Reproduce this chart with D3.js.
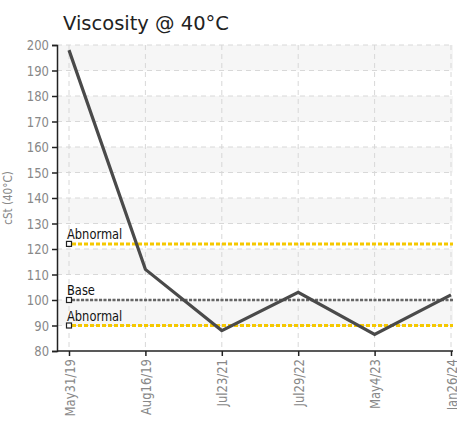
<!DOCTYPE html>
<html><head><meta charset="utf-8">
<script src="https://cdn.jsdelivr.net/npm/d3@7"></script>
<style>
body{margin:0;background:#fff;}
text{font-family:"DejaVu Sans",sans-serif;}
</style></head>
<body>
<svg id="c" width="457" height="423"></svg>
<script>
const categories = ["May31/19","Aug16/19","Jul23/21","Jul29/22","May4/23","Jan26/24"];
const viscosity = [198, 112, 88, 103, 86.5, 102];
const yTicks = [80,90,100,110,120,130,140,150,160,170,180,190,200];
const limitNames = ["Abnormal","Base","Abnormal"];
const limitValues = [122, 100, 90];
const limitKinds = ["abn","base","abn"];

const svg = d3.select("#c");
const L = 57, R = 453, T = 45, B = 351;
const SX = 0.8;
const x = d3.scalePoint().domain(categories).range([69, 451]);
const y = d3.scaleLinear().domain([80, 200]).range([B, T]);

// title
svg.append("text").attr("x", 63).attr("y", 30).attr("font-size", 19.5)
  .attr("fill", "#222").text("Viscosity @ 40°C");

// bands
for (let i = 0; i < yTicks.length - 1; i++) {
  const v0 = yTicks[i], v1 = yTicks[i+1];
  if (i % 2 === 1) {
    svg.append("rect").attr("x", L).attr("y", y(v1)).attr("width", R - L)
      .attr("height", y(v0) - y(v1)).attr("fill", "#f6f6f6");
  }
}
// grid
svg.append("g").selectAll("line").data(yTicks.slice(1)).join("line")
  .attr("x1", L).attr("x2", R).attr("y1", d => y(d)).attr("y2", d => y(d))
  .attr("stroke", "#d8d8d8").attr("stroke-dasharray", "5,4");
svg.append("g").selectAll("line").data(categories).join("line")
  .attr("x1", d => x(d)).attr("x2", d => x(d)).attr("y1", T).attr("y2", B)
  .attr("stroke", "#d8d8d8").attr("stroke-dasharray", "5,4");

// axes
const ya = svg.append("g").attr("transform", `translate(${L},0)`)
  .call(d3.axisLeft(y).tickValues(yTicks).tickSize(5).tickPadding(3));
ya.select(".domain").attr("stroke", "#222").attr("stroke-width", 1.5);
ya.selectAll(".tick line").attr("stroke", "#222").attr("stroke-width", 1.5);
ya.selectAll(".tick text").attr("font-size", 14.5).attr("fill", "#888")
  .attr("x", -8 / SX).attr("transform", `scale(${SX},1)`);

const xa = svg.append("g").attr("transform", `translate(0,${B})`)
  .call(d3.axisBottom(x).tickSize(5).tickSizeOuter(0));
xa.select(".domain").attr("d", `M${L},0H${R}`).attr("stroke", "#222").attr("stroke-width", 1.5);
xa.selectAll(".tick line").attr("stroke", "#222").attr("stroke-width", 1.5);
xa.selectAll(".tick text").attr("font-size", 14.5).attr("fill", "#888")
  .attr("text-anchor", "end").attr("dy", "0.35em")
  .attr("transform", `translate(0,8) rotate(-90) scale(${SX},1)`).attr("x", 0).attr("y", 0);

// y label
svg.append("text").attr("transform", `translate(12,198) rotate(-90) scale(${SX},1)`)
  .attr("text-anchor", "middle").attr("font-size", 13).attr("fill", "#888")
  .text("cSt (40°C)");

// limit lines
limitValues.forEach((v, i) => {
  const abn = limitKinds[i] === "abn";
  svg.append("line").attr("x1", 72).attr("x2", R).attr("y1", y(v)).attr("y2", y(v))
    .attr("stroke", abn ? "#f5c800" : "#666").attr("stroke-width", abn ? 3 : 2.5)
    .attr("stroke-dasharray", abn ? "4,2" : "3,1.5");
  svg.append("rect").attr("x", x(categories[0]) - 2.5).attr("y", y(v) - 2.5)
    .attr("width", 5).attr("height", 5).attr("fill", "#fff").attr("stroke", "#222").attr("stroke-width", 1.2);
  svg.append("text").attr("transform", `translate(67,${y(v) - 5}) scale(0.85,1)`).attr("font-size", 13.5)
    .attr("fill", "#111").text(limitNames[i]);
});

// main line
svg.append("path").datum(viscosity)
  .attr("d", d3.line().x((d, i) => x(categories[i])).y(d => y(d)))
  .attr("fill", "none").attr("stroke", "#4a4a4a").attr("stroke-width", 3.2)
  .attr("stroke-linejoin", "miter");
</script>
</body></html>
